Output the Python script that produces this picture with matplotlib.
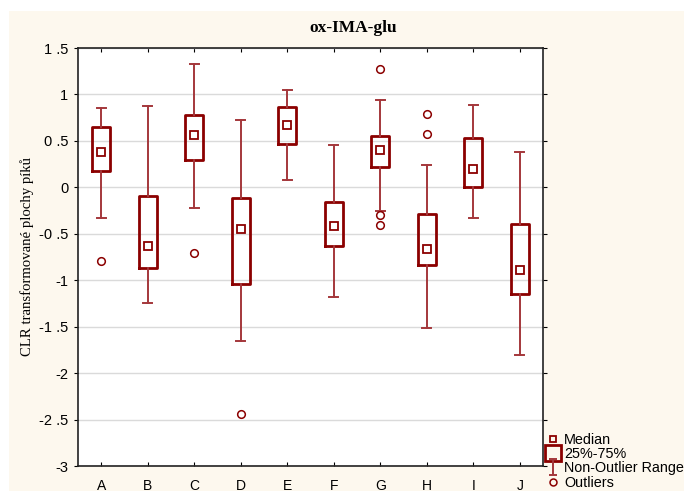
import matplotlib.pyplot as plt
from matplotlib.lines import Line2D
from matplotlib.patches import Rectangle
from matplotlib.path import Path

groups = ["A", "B", "C", "D", "E", "F", "G", "H", "I", "J"]
medians = [0.38, -0.63, 0.56, -0.45, 0.67, -0.42, 0.40, -0.66, 0.20, -0.89]
q1 = [0.18, -0.87, 0.29, -1.04, 0.47, -0.63, 0.22, -0.84, 0.00, -1.15]
q3 = [0.65, -0.09, 0.78, -0.12, 0.86, -0.16, 0.55, -0.29, 0.53, -0.40]
whis_lo = [-0.33, -1.25, -0.22, -1.65, 0.08, -1.18, -0.25, -1.51, -0.33, -1.80]
whis_hi = [0.85, 0.88, 1.33, 0.73, 1.05, 0.46, 0.94, 0.24, 0.89, 0.38]
outliers = [[-0.79], [], [-0.71], [-2.44], [], [], [1.27, -0.30, -0.41], [0.79, 0.57], [], []]

box_col = "#8B0000"
whis_col = "#A4373B"
bg_col = "#FDF8EE"

plt.rcParams["font.family"] = ["Liberation Sans", "DejaVu Sans"]

fig = plt.figure(figsize=(6.84, 4.91), dpi=100)
fig.patch.set_facecolor("white")
fig.patches.append(Rectangle((9 / 684, 0), 1, 1 - 11 / 491, transform=fig.transFigure,
                             facecolor=bg_col, edgecolor="none", zorder=-10))
ax = fig.add_axes([78 / 684, 1 - 466 / 491, 465 / 684, 418 / 491])
ax.set_facecolor("white")

stats = []
for i in range(len(groups)):
    stats.append(dict(med=medians[i], q1=q1[i], q3=q3[i], whislo=whis_lo[i],
                      whishi=whis_hi[i], fliers=outliers[i], label=groups[i]))

pos = list(range(1, len(groups) + 1))
ax.bxp(stats, positions=pos, widths=0.39, showfliers=True, patch_artist=False,
       boxprops=dict(color=box_col, linewidth=2.0),
       whiskerprops=dict(color=whis_col, linewidth=1.4),
       capprops=dict(color=whis_col, linewidth=1.4),
       medianprops=dict(linewidth=0),
       flierprops=dict(marker="o", markerfacecolor="none", markeredgecolor=box_col,
                       markersize=5.5, markeredgewidth=1.1),
       capwidths=0.2, zorder=3)
ax.plot(pos, medians, linestyle="none", marker="s", markersize=6,
        markerfacecolor="none", markeredgecolor=box_col, markeredgewidth=1.3, zorder=4)

ax.set_xlim(0.5, 10.5)
ax.set_ylim(-3, 1.5)
yt = [1.5, 1, 0.5, 0, -0.5, -1, -1.5, -2, -2.5, -3]
ylab = ["1 .5", "1", "0 .5", "0", "-0 .5", "-1", "-1 .5", "-2", "-2 .5", "-3"]
ax.set_yticks(yt)
ax.set_yticklabels(ylab, fontsize=10.5)
ax.set_xticks(pos)
ax.set_xticklabels(groups, fontsize=10)
ax.grid(axis="y", color="#dadada", linewidth=1.0, zorder=0)
ax.set_axisbelow(True)
ax.tick_params(axis="y", direction="out", length=3, pad=4, right=True)
ax.tick_params(axis="y", which="both", labelright=False)
ax.tick_params(axis="x", direction="in", length=3, pad=9, top=True)
for s in ax.spines.values():
    s.set_color("#222222")
    s.set_linewidth(1.2)

fig.text(353 / 684, 1 - 28 / 491, "ox-IMA-glu", ha="center", va="center",
         family="Liberation Serif", fontweight="bold", fontsize=12.5)
fig.text(27 / 684, 1 - 257 / 491, "CLR transformované plochy píků", rotation=90,
         ha="center", va="center", family="Liberation Serif", fontsize=10.6)

ibeam = Path([(-0.5, 1), (0.5, 1), (0, 1), (0, -1), (-0.5, -1), (0.5, -1)],
             [Path.MOVETO, Path.LINETO, Path.MOVETO, Path.LINETO, Path.MOVETO, Path.LINETO])
handles = [
    Line2D([], [], linestyle="none", marker="s", markersize=5, markerfacecolor="none",
           markeredgecolor=box_col, markeredgewidth=1.3),
    Line2D([], [], linestyle="none", marker="s", markersize=11, markerfacecolor="none",
           markeredgecolor=box_col, markeredgewidth=2),
    Line2D([], [], linestyle="none", marker=ibeam, markersize=11, markerfacecolor="none",
           markeredgecolor=whis_col, markeredgewidth=1.4),
    Line2D([], [], linestyle="none", marker="o", markersize=5, markerfacecolor="none",
           markeredgecolor=box_col, markeredgewidth=1.1),
]
labels = ["Median", "25%-75%", "Non-Outlier Range", "Outliers"]
fig.legend(handles, labels, loc="lower left", bbox_to_anchor=(546 / 684, 0 / 491),
           frameon=False, fontsize=10.4, handlelength=0.8, handletextpad=0.35,
           labelspacing=0.02, borderpad=0.1, borderaxespad=0)

fig.savefig("out.png", dpi=100)
